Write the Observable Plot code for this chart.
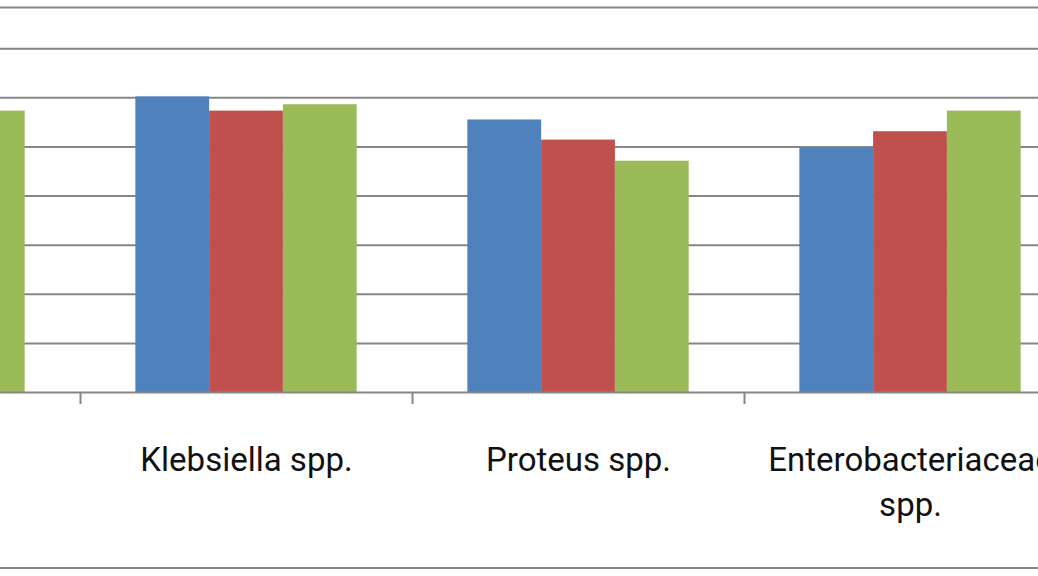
<!DOCTYPE html>
<html>
<head>
<meta charset="utf-8">
<script src="https://cdn.jsdelivr.net/npm/d3@7"></script>
<script src="https://cdn.jsdelivr.net/npm/@observablehq/plot@0.6"></script>
<style>
  html, body { margin: 0; padding: 0; background: #fff; }
  #wrap { position: relative; width: 1038px; height: 576px; overflow: hidden; background: #fff; }
  #wrap svg { display: block; overflow: hidden; }
  #border { position: absolute; left: 0; right: 0; top: 567px; height: 2px; background: #868686; }
</style>
</head>
<body>
<div id="wrap"><div id="border"></div></div>
<script>
// Categories (the first one is only partly in view, cropped on the left; its label is out of view)
const categories = ["E. coli", "Klebsiella spp.", "Proteus spp.", "Enterobacteriaceae spp."];
const visibleLabelCategories = ["Klebsiella spp.", "Proteus spp.", "Enterobacteriaceae spp."];
const seriesNames = ["Series 1", "Series 2", "Series 3"];
const seriesColors = ["#4F81BD", "#C0504D", "#9BBB59"];
// Values (gridline step = 10); null = not visible
const series1Values = [null, 60.2, 55.5, 49.8];
const series2Values = [null, 57.3, 51.4, 53.1];
const series3Values = [57.3, 58.6, 47.1, 57.3];
const yGridTicks = [10, 20, 30, 40, 50, 60, 70];
const yMax = 78.4;

const seriesValues = [series1Values, series2Values, series3Values];
const gapWidth = 1.5; // Excel gap width (150%)
const barW = 1 / (seriesNames.length + gapWidth);
const rows = [];
categories.forEach((c, ci) => {
  seriesNames.forEach((s, si) => {
    const v = seriesValues[si][ci];
    if (v != null) {
      const x1 = ci - (seriesNames.length / 2) * barW + si * barW;
      rows.push({category: c, series: s, value: v, x1, x2: x1 + barW});
    }
  });
});
const boundaries = categories.map((c, i) => i + 0.5);
const labels = visibleLabelCategories.map(c => ({name: c, i: categories.indexOf(c)}));

const chart = Plot.plot({
  width: 1038,
  height: 576,
  marginLeft: 0,
  marginRight: 0,
  marginTop: 7,
  marginBottom: 184,
  x: {type: "linear", domain: [0.259, 3.3855]},
  y: {domain: [0, yMax], axis: null},
  color: {domain: seriesNames, range: seriesColors},
  marks: [
    Plot.gridY(yGridTicks, {stroke: "#868686", strokeOpacity: 1, strokeWidth: 2}),
    Plot.ruleY([yMax], {stroke: "#868686", strokeWidth: 2}),
    Plot.rect(rows, {x1: "x1", x2: "x2", y1: 0, y2: "value", fill: "series", clip: true}),
    Plot.ruleY([0], {stroke: "#868686", strokeWidth: 2}),
    Plot.axisX(boundaries, {tickSize: 12, stroke: "#868686", strokeWidth: 2, tickFormat: () => ""}),
    Plot.text(labels, {
      x: "i", text: "name", frameAnchor: "bottom", dy: 46, lineAnchor: "top",
      fontSize: 33, fontFamily: "Roboto", lineWidth: 9.5, lineHeight: 1.38,
      fill: "#111", textAnchor: "middle"
    })
  ]
});
document.getElementById("wrap").appendChild(chart);
</script>
</body>
</html>
